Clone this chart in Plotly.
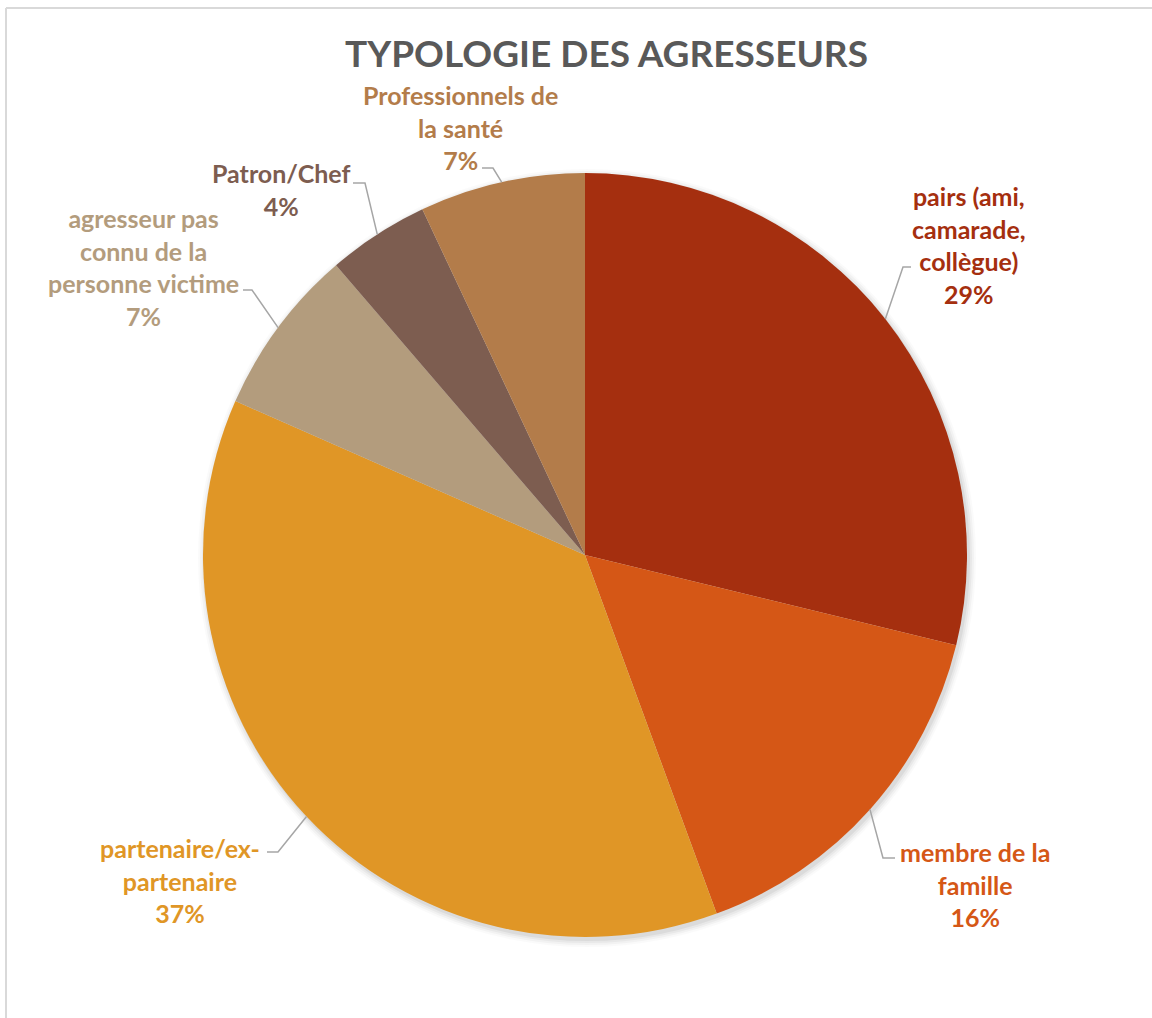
import math
import plotly.graph_objects as go

# ---- data ----
categories = [
    "pairs (ami, camarade, collègue)",
    "membre de la famille",
    "partenaire/ex-partenaire",
    "agresseur pas connu de la personne victime",
    "Patron/Chef",
    "Professionnels de la santé",
]
label_texts = [
    "pairs (ami,<br>camarade,<br>collègue)",
    "membre de la<br>famille",
    "partenaire/ex-<br>partenaire",
    "agresseur pas<br>connu de la<br>personne victime",
    "Patron/Chef",
    "Professionnels de<br>la santé",
]
values = [28.8, 15.6, 37.2, 7.1, 4.3, 7.0]
colors = ["#A52F0F", "#D55716", "#E09626", "#B39C7D", "#7D5D50", "#B37C4A"]

# ---- layout geometry (pixels) ----
W, H = 1152, 1018
CX, CY, R = 585, 555, 382
# label block centres and leader elbow segments (label end, elbow)
label_pos = [(969, 245), (975, 884), (180, 880), (143, 267), (281, 190), (460, 127)]
elbows = [((911, 267), (903, 267)),
          ((895, 858), (883, 858)),
          ((267, 852), (278, 852)),
          ((243, 290), (252, 290)),
          ((353, 183), (365, 183)),
          ((482, 168), (493, 168))]


def px(x):
    return x / W


def py(y):
    return 1 - y / H


fig = go.Figure()
fig.add_trace(go.Pie(
    labels=categories,
    values=values,
    sort=False,
    direction="clockwise",
    rotation=0,
    marker=dict(colors=colors, line=dict(width=0)),
    textinfo="none",
    hoverinfo="label+percent",
    showlegend=False,
    domain=dict(x=[px(CX - R), px(CX + R)], y=[py(CY + R), py(CY - R)]),
))

shapes = []
# frame
shapes.append(dict(type="line", xref="paper", yref="paper", x0=px(6), y0=py(8), x1=1, y1=py(8),
                   line=dict(color="#D9D9D9", width=2)))
shapes.append(dict(type="line", xref="paper", yref="paper", x0=px(6), y0=py(8), x1=px(6), y1=0,
                   line=dict(color="#D9D9D9", width=2)))
# soft shadow
for i, a in enumerate([0.05, 0.04, 0.03, 0.02]):
    rr = R + 1 + i * 2
    shapes.append(dict(type="circle", xref="paper", yref="paper", layer="below",
                       x0=px(CX + 2 - rr), x1=px(CX + 2 + rr), y0=py(CY + 3 + rr), y1=py(CY + 3 - rr),
                       fillcolor=f"rgba(0,0,0,{a})", line=dict(width=0)))

annotations = []
total = sum(values)
cum = 0.0
for i, v in enumerate(values):
    mid = (cum + v / 2) / total * 2 * math.pi
    cum += v
    ex = CX + R * math.sin(mid)
    ey = CY - R * math.cos(mid)
    (x0, y0), (x1, y1) = elbows[i]
    shapes.append(dict(type="path", xref="paper", yref="paper",
                       path=f"M {px(x0)},{py(y0)} L {px(x1)},{py(y1)} L {px(ex)},{py(ey)}",
                       line=dict(color="#A6A6A6", width=1.5)))
    pct = round(v / total * 100)
    lx, ly = label_pos[i]
    annotations.append(dict(
        x=px(lx), y=py(ly), xref="paper", yref="paper", showarrow=False,
        xanchor="center", yanchor="middle", align="center",
        text=f"<b>{label_texts[i]}<br>{pct}%</b>",
        font=dict(family="Lato", size=25, color=colors[i]),
    ))

annotations.append(dict(
    x=px(606), y=py(52), xref="paper", yref="paper", showarrow=False,
    xanchor="center", yanchor="middle",
    text="<b>TYPOLOGIE DES AGRESSEURS</b>",
    font=dict(family="Lato", size=37, color="#595959"),
))

fig.update_layout(
    width=W, height=H,
    margin=dict(l=0, r=0, t=0, b=0),
    paper_bgcolor="white",
    plot_bgcolor="white",
    shapes=shapes,
    annotations=annotations,
)

fig.write_html("out.html", config={"displayModeBar": False},
               post_script="document.body.style.margin='0px';document.body.style.overflow='hidden';")
